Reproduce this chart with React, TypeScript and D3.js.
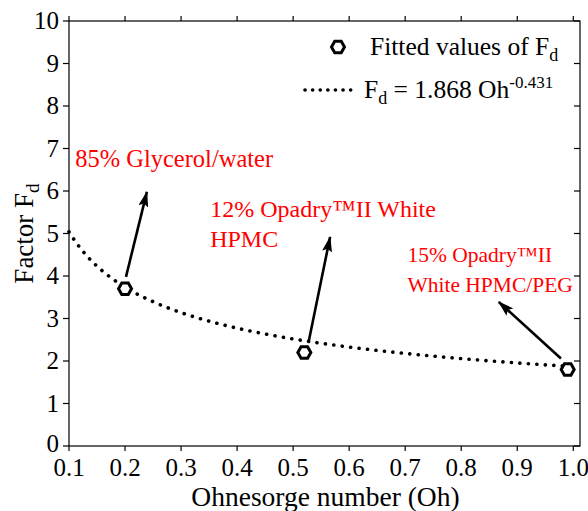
import React from "react";
import * as d3 from "d3";

const ohValues = [0.2, 0.52, 0.99];
const fdValues = [3.7, 2.2, 1.8];
const fitA = 1.868;
const fitB = -0.431;
const fitRange = [0.1, 0.985];
const xTicks = [0.1, 0.2, 0.3, 0.4, 0.5, 0.6, 0.7, 0.8, 0.9, 1.0];
const yTicks = [0, 1, 2, 3, 4, 5, 6, 7, 8, 9, 10];
const annotationLines = [
  ["85% Glycerol/water"],
  ["12% Opadry™II White", "HPMC"],
  ["15% Opadry™II", "White HPMC/PEG"],
];
const annotationPos = [
  [0.111, 6.56],
  [0.352, 5.38],
  [0.704, 4.34],
];
const arrowTail = [
  [0.2017, 3.98],
  [0.528, 2.47],
  [0.978, 2.06],
];
const arrowTip = [
  [0.239, 5.98],
  [0.566, 4.92],
  [0.867, 3.39],
];

const W = 588;
const H = 511;
const M = { left: 69, right: 580, top: 21, bottom: 446 };
const FONT = "Liberation Serif, DejaVu Serif, serif";
const annotationFont = [24.5, 24, 21.5];

function hexPath(r: number) {
  const pts = d3.range(6).map((i) => {
    const a = (Math.PI / 3) * i;
    return [r * Math.cos(a), r * Math.sin(a)];
  });
  return "M" + pts.map((p) => p.join(",")).join("L") + "Z";
}

export default function App() {
  const x = d3.scaleLinear().domain([0.1, 1.012]).range([M.left, M.right]);
  const y = d3.scaleLinear().domain([0, 10]).range([M.bottom, M.top]);
  const fitX = d3.range(fitRange[0], fitRange[1] + 1e-9, 0.005);
  const line = d3
    .line<number>()
    .x((d) => x(d))
    .y((d) => y(fitA * Math.pow(d, fitB)))
    .curve(d3.curveLinear);
  const hex = hexPath(6.5);

  return (
    <svg width={W} height={H} style={{ position: "absolute", left: 0, top: 0, background: "#fff" }}>
      <defs>
        <marker id="ah" viewBox="0 0 16 10" refX="15" refY="5" markerWidth="16" markerHeight="10" markerUnits="userSpaceOnUse" orient="auto">
          <path d="M0,0 L16,5 L0,10 L3,5 Z" fill="#000" />
        </marker>
      </defs>
      <rect x={0} y={0} width={W} height={H} fill="#fff" />
      <rect x={M.left} y={M.top} width={M.right - M.left} height={M.bottom - M.top} fill="none" stroke="#000" strokeWidth={1.2} />
      <g fontFamily={FONT}>
        {xTicks.map((t) => (
          <g key={"x" + t}>
            <line x1={x(t)} x2={x(t)} y1={M.bottom} y2={M.bottom + 5} stroke="#000" strokeWidth={1.2} />
            <line x1={x(t)} x2={x(t)} y1={M.top} y2={M.top - 5} stroke="#000" strokeWidth={1.2} />
            <text x={x(t)} y={M.bottom + 30} textAnchor="middle" fontSize={25}>
              {t.toFixed(1)}
            </text>
          </g>
        ))}
        {yTicks.map((t) => (
          <g key={"y" + t}>
            <line x1={M.left} x2={M.left - 6} y1={y(t)} y2={y(t)} stroke="#000" strokeWidth={1.2} />
            <line x1={M.right} x2={M.right - 6} y1={y(t)} y2={y(t)} stroke="#000" strokeWidth={1.2} />
            <text x={M.left - 10} y={y(t) + (t === 0 ? 6 : 8)} textAnchor="end" fontSize={25}>
              {t}
            </text>
          </g>
        ))}
        <text x={(M.left + M.right) / 2 + 1} y={506} textAnchor="middle" fontSize={27.5}>
          Ohnesorge number (Oh)
        </text>
        <text transform={`translate(33,${(M.top + M.bottom) / 2}) rotate(-90)`} textAnchor="middle" fontSize={27}>
          Factor F<tspan fontSize={19} dy={6}>d</tspan>
        </text>
        <path d={line(fitX) || ""} fill="none" stroke="#000" strokeWidth={3.6} strokeLinecap="round" strokeDasharray="0.1 8.4" />
        {ohValues.map((o, i) => (
          <path key={"p" + i} d={hex} transform={`translate(${x(o)},${y(fdValues[i])})`} fill="#fff" stroke="#000" strokeWidth={3} />
        ))}
        {arrowTail.map((t, i) => (
          <line key={"a" + i} x1={x(t[0])} y1={y(t[1])} x2={x(arrowTip[i][0])} y2={y(arrowTip[i][1])} stroke="#000" strokeWidth={2.6} markerEnd="url(#ah)" />
        ))}
        {annotationLines.map((ls, i) => (
          <text key={"t" + i} x={x(annotationPos[i][0])} y={y(annotationPos[i][1])} fill="#ff0000" fontSize={annotationFont[i]}>
            {ls.map((l, j) => (
              <tspan key={j} x={x(annotationPos[i][0])} dy={j === 0 ? 0 : 30}>
                {l}
              </tspan>
            ))}
          </text>
        ))}
        <path d={hex} transform="translate(338,47)" fill="#fff" stroke="#000" strokeWidth={3} />
        <text x={370} y={55} fontSize={25.5}>
          Fitted values of F<tspan fontSize={18} dy={6}>d</tspan>
        </text>
        <line x1={305} x2={358} y1={90} y2={90} stroke="#000" strokeWidth={3.6} strokeLinecap="round" strokeDasharray="0.1 7.5" />
        <text x={364} y={98} fontSize={25.5}>
          F<tspan fontSize={18} dy={6}>d</tspan>
          <tspan dy={-6}> = 1.868 Oh</tspan>
          <tspan fontSize={17} dy={-10}>-0.431</tspan>
        </text>
      </g>
    </svg>
  );
}
